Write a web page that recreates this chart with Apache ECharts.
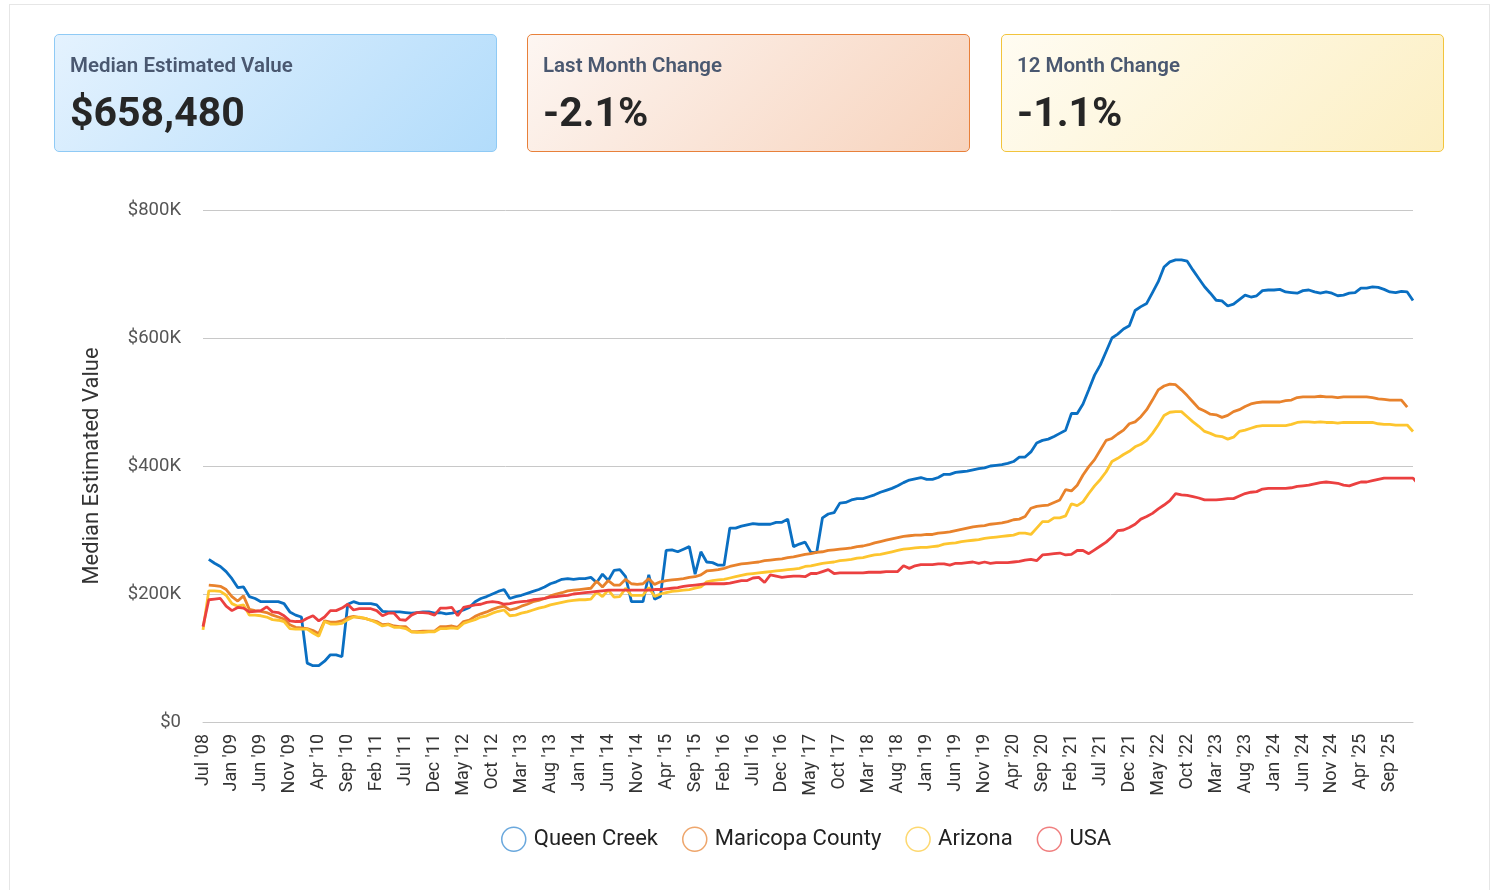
<!DOCTYPE html>
<html>
<head>
<meta charset="utf-8">
<script src="https://cdn.jsdelivr.net/npm/echarts@6/dist/echarts.min.js"></script>
<style>
  html, body { margin: 0; padding: 0; background: #fff; font-family: Roboto, sans-serif; }
  .frame { position: absolute; left: 9px; top: 4px; width: 1479px; height: 900px; border: 1px solid #e6e6e6; }
  .card { position: absolute; top: 34px; height: 118px; width: 443px; border-radius: 5px; box-sizing: border-box; }
  .card .t { position: absolute; left: 15px; top: 18px; font-size: 20.5px; font-weight: 600; color: #4a5870; }
  .card .v { position: absolute; left: 15px; top: 53px; font-size: 41px; font-weight: 700; color: #262626; }
  #c1 { left: 54px; border: 1px solid #8fcaf5; background: linear-gradient(135deg, #e4f2fe 0%, #b2dcfb 100%); }
  #c2 { left: 527px; border: 1px solid #e8803a; background: linear-gradient(135deg, #fdf6f2 0%, #f7d3bd 100%); }
  #c3 { left: 1001px; border: 1px solid #f2c43c; background: linear-gradient(135deg, #fffcf2 0%, #fcefc3 100%); }
  #chart { position: absolute; left: 0; top: 0; width: 1499px; height: 890px; }
</style>
</head>
<body>
<div class="frame"></div>
<div id="chart"></div>
<div class="card" id="c1"><div class="t">Median Estimated Value</div><div class="v">$658,480</div></div>
<div class="card" id="c2"><div class="t">Last Month Change</div><div class="v">-2.1%</div></div>
<div class="card" id="c3"><div class="t">12 Month Change</div><div class="v">-1.1%</div></div>
<script>
// month labels: Jul '08, then Sep '08 ... Jan '26
const monthNames = ['Jan','Feb','Mar','Apr','May','Jun','Jul','Aug','Sep','Oct','Nov','Dec'];
const categories = ["Jul '08"];
for (let y = 2008, m = 8; y < 2026 || (y === 2026 && m <= 0); ) {
  categories.push(monthNames[m] + " '" + String(y).slice(2));
  m++;
  if (m > 11) { m = 0; y++; }
}

// values in $K
const queenCreek = [null,
  254,248,243,235,224,210,211,196,193,188,188,188,188,185,172,167,164,92,88,88,
  95,105,105,102,184,188,185,185,185,183,173,172,172,172,171,170,171,172,172,170,
  171,169,170,172,175,179,188,193,196,200,204,207,193,196,198,201,204,207,211,216,
  219,223,224,223,224,224,226,218,231,221,237,238,227,188,188,188,230,192,196,268,
  269,266,270,274,231,266,250,249,245,245,303,303,306,308,310,309,309,309,312,312,
  317,274,278,281,265,265,319,325,327,342,343,347,349,349,352,355,359,362,365,369,
  374,378,380,382,379,379,382,387,387,390,391,392,394,396,397,400,401,402,404,407,
  414,414,422,436,440,442,446,451,456,482,482,497,519,542,558,579,600,606,614,619,
  643,649,654,671,688,711,719,722,722,720,706,693,680,670,659,658,650,653,660,667,
  664,666,674,675,675,676,672,671,670,674,675,672,670,672,670,666,667,670,671,678,
  678,680,679,676,672,671,673,672,658.48];

const maricopa = [null,
  214,213,212,207,196,189,197,176,174,173,171,167,164,161,152,148,147,146,143,138,
  158,156,156,158,163,165,163,162,159,157,152,153,150,149,149,141,141,142,142,142,
  149,149,150,148,157,159,165,169,172,176,179,181,175,177,181,184,188,190,193,197,
  200,202,205,206,207,208,209,220,211,221,214,214,223,216,215,216,224,215,219,221,
  222,223,224,226,227,230,236,237,238,240,243,245,247,248,249,250,252,253,254,255,
  257,258,260,262,263,265,266,268,269,270,271,272,274,275,277,280,282,284,286,288,
  290,291,292,292,293,293,295,296,297,299,301,303,305,306,307,309,310,311,313,316,
  317,321,334,337,338,339,343,347,363,361,370,386,399,410,425,440,443,450,456,466,
  469,477,488,503,519,525,528,527,519,510,500,490,486,481,480,476,479,485,488,493,
  497,499,500,500,500,500,502,503,507,508,508,508,509,508,508,507,508,508,508,508,
  508,507,505,504,503,503,503,492];

const arizona = [144,
  205,205,204,198,185,181,183,167,167,166,164,160,159,157,146,145,145,145,139,134,
  157,153,153,154,160,164,164,162,159,155,150,152,148,148,146,141,140,140,141,141,
  146,146,147,146,154,157,160,164,166,170,173,175,166,167,170,172,175,178,180,183,
  185,187,189,190,191,191,192,203,196,206,195,196,209,198,198,198,210,196,200,202,
  204,205,206,207,209,211,219,221,222,223,225,227,229,231,232,233,234,235,236,237,
  238,239,240,243,244,246,248,249,250,252,253,254,256,257,259,261,262,264,266,268,
  270,271,272,273,273,274,275,278,279,280,282,283,284,285,287,288,289,290,291,292,
  295,295,293,303,313,313,319,319,322,341,338,344,357,369,379,391,407,412,418,423,
  430,434,440,451,464,479,484,485,485,477,469,462,454,451,447,446,442,445,454,456,
  459,462,463,463,463,463,463,465,468,469,469,468,469,468,468,467,468,468,468,468,
  468,468,466,465,465,464,464,464,454];

const usa = [149,
  191,192,193,181,174,179,178,172,173,174,180,172,171,166,158,157,157,162,166,158,
  164,174,174,178,184,175,177,177,177,174,166,170,170,160,159,167,171,171,170,167,
  178,178,179,166,179,181,183,184,187,188,187,184,185,187,188,189,191,192,193,195,
  196,197,198,200,201,202,203,204,205,206,206,206,206,206,206,206,206,207,207,208,
  209,210,212,213,214,215,216,216,216,216,217,219,221,221,225,226,218,230,228,226,
  227,228,228,227,232,232,235,238,232,233,233,233,233,233,234,234,234,235,235,235,
  244,240,244,246,246,246,247,247,245,248,248,249,250,248,250,248,249,249,249,250,
  251,253,254,252,261,262,263,264,261,262,268,268,263,269,275,281,289,299,300,304,
  309,317,321,326,333,339,346,357,355,354,352,350,347,347,347,348,349,349,353,357,
  359,360,364,365,365,365,365,366,368,369,370,372,374,375,374,373,370,369,372,375,
  375,377,379,381,381,381,381,381,381,371];

const yTicks = [0, 200, 400, 600, 800];

const chart = echarts.init(document.getElementById('chart'));

function line(name, data, color) {
  return {
    name: name,
    type: 'line',
    data: data,
    showSymbol: false,
    lineStyle: { width: 2.8, color: color },
    itemStyle: { color: color }
  };
}

const option = {
  animation: false,
  textStyle: { fontFamily: 'Roboto' },
  color: ['#0a6fc2', '#e8822c', '#fdc52e', '#eb4040'],
  grid: { left: 203, right: 86, top: 210, bottom: 168 },
  legend: {
    bottom: 33,
    left: 496,
    icon: 'circle',
    itemWidth: 24,
    itemHeight: 24,
    itemGap: 24,
    textStyle: { fontSize: 22, color: '#222', fontFamily: 'Roboto', padding: [0, 0, 0, 3] },
    data: [
      { name: 'Queen Creek', itemStyle: { color: '#fff', borderColor: '#6aa8dd', borderWidth: 1.5 } },
      { name: 'Maricopa County', itemStyle: { color: '#fff', borderColor: '#eea66c', borderWidth: 1.5 } },
      { name: 'Arizona', itemStyle: { color: '#fff', borderColor: '#fdd870', borderWidth: 1.5 } },
      { name: 'USA', itemStyle: { color: '#fff', borderColor: '#f07f7f', borderWidth: 1.5 } }
    ]
  },
  xAxis: {
    type: 'category',
    data: categories,
    boundaryGap: false,
    axisLine: { show: true, lineStyle: { color: '#c8c8c8' } },
    axisTick: { show: false },
    axisLabel: { interval: 4, rotate: 90, fontSize: 18, color: '#333', margin: 12 }
  },
  yAxis: {
    type: 'value',
    min: yTicks[0],
    max: yTicks[yTicks.length - 1],
    interval: 200,
    name: 'Median Estimated Value',
    nameLocation: 'middle',
    nameGap: 100,
    nameTextStyle: { fontSize: 22, color: '#333' },
    axisLine: { show: false },
    axisTick: { show: false },
    splitLine: { lineStyle: { color: '#c8c8c8' } },
    axisLabel: {
      fontSize: 18.5, color: '#555', margin: 22,
      formatter: v => v === 0 ? '$0' : '$' + v + 'K'
    }
  },
  series: [
    line('Queen Creek', queenCreek, '#0a6fc2'),
    line('Maricopa County', maricopa, '#e8822c'),
    line('Arizona', arizona, '#fdc52e'),
    line('USA', usa, '#eb4040')
  ]
};

chart.setOption(option);
</script>
</body>
</html>
